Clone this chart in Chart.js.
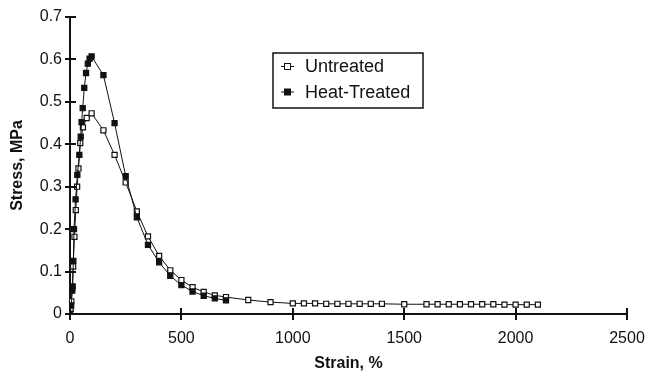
<!DOCTYPE html>
<html>
<head>
<meta charset="utf-8">
<script src="https://cdn.jsdelivr.net/npm/chart.js@4/dist/chart.umd.min.js"></script>
<style>
html,body{margin:0;padding:0;background:#fff;}
#wrap{width:645px;height:373px;position:relative;}
</style>
</head>
<body>
<div id="wrap"><canvas id="c" width="645" height="373"></canvas></div>
<script>
// Data
const untreatedStrain = [0, 3, 6, 10, 14, 20, 26, 32, 38, 46, 58, 75, 97, 150, 200, 250, 300, 350, 400, 450, 500, 550, 600, 650, 700, 800, 900,
  1000, 1050, 1100, 1150, 1200, 1250, 1300, 1350, 1400, 1500,
  1600, 1650, 1700, 1750, 1800, 1850, 1900, 1950, 2000, 2050, 2100];
const untreatedStress = [0, 0.012, 0.03, 0.06, 0.112, 0.182, 0.245, 0.300, 0.343, 0.403, 0.440, 0.462, 0.473, 0.433, 0.375, 0.310, 0.242, 0.183, 0.137, 0.103, 0.080, 0.063, 0.052, 0.044, 0.040, 0.033, 0.028,
  0.025, 0.025, 0.025, 0.024, 0.024, 0.024, 0.024, 0.024, 0.024, 0.023,
  0.023, 0.023, 0.023, 0.023, 0.023, 0.023, 0.023, 0.022, 0.022, 0.022, 0.022];
const heatStrain = [0, 5, 10, 12, 15, 18, 25, 33, 42, 48, 52, 57, 64, 72, 80, 88, 97, 150, 200, 250, 300, 350, 400, 450, 500, 550, 600, 650, 700];
const heatStress = [0, 0.020, 0.055, 0.065, 0.125, 0.200, 0.270, 0.328, 0.375, 0.418, 0.452, 0.485, 0.533, 0.568, 0.590, 0.602, 0.607, 0.563, 0.450, 0.325, 0.228, 0.163, 0.122, 0.090, 0.068, 0.053, 0.043, 0.037, 0.032];
const seriesNames = ["Untreated", "Heat-Treated"];
const xTicks = [0, 500, 1000, 1500, 2000, 2500];
const yTicks = [0, 0.1, 0.2, 0.3, 0.4, 0.5, 0.6, 0.7];
const xTitle = "Strain, %";
const yTitle = "Stress, MPa";

const toPts = (xs, ys) => xs.map((x, i) => ({x: x, y: ys[i]}));
const FONT = "'Liberation Sans', Arial, Helvetica, sans-serif";

const crossTicks = {
  id: 'crossTicks',
  afterDraw(chart) {
    const ctx = chart.ctx;
    const xs = chart.scales.x, ys = chart.scales.y;
    ctx.save();
    ctx.strokeStyle = '#111';
    ctx.lineWidth = 2;
    const yb = ys.getPixelForValue(0);
    xTicks.forEach(v => {
      const px = Math.round(xs.getPixelForValue(v));
      ctx.beginPath(); ctx.moveTo(px, yb - 6); ctx.lineTo(px, yb + 6); ctx.stroke();
    });
    const xl = xs.getPixelForValue(0);
    yTicks.forEach(v => {
      const py = Math.round(ys.getPixelForValue(v));
      ctx.beginPath(); ctx.moveTo(xl - 5, py); ctx.lineTo(xl + 6, py); ctx.stroke();
    });
    // framed legend
    const bx = 273, by = 53, bw = 150, bh = 55;
    ctx.fillStyle = '#fff';
    ctx.fillRect(bx, by, bw, bh);
    ctx.lineWidth = 1.5;
    ctx.strokeStyle = '#111';
    ctx.strokeRect(bx, by, bw, bh);
    const rows = [66.5, 92];
    chart.data.datasets.forEach((ds, i) => {
      const cy = rows[i];
      ctx.lineWidth = 1;
      ctx.strokeStyle = '#111';
      ctx.beginPath(); ctx.moveTo(281, cy); ctx.lineTo(294, cy); ctx.stroke();
      ctx.fillStyle = ds.pointBackgroundColor;
      ctx.fillRect(284.5, cy - 3, 6, 6);
      ctx.strokeRect(284.5, cy - 3, 6, 6);
      ctx.fillStyle = '#111';
      ctx.font = '18px ' + FONT;
      ctx.textBaseline = 'middle';
      ctx.textAlign = 'left';
      ctx.fillText(ds.label, 305, cy + 1);
    });
    ctx.restore();
  }
};

new Chart(document.getElementById('c'), {
  type: 'scatter',
  data: {
    datasets: [
      {
        label: seriesNames[0],
        data: toPts(untreatedStrain, untreatedStress),
        showLine: true,
        borderColor: '#111',
        borderWidth: 1,
        pointStyle: 'rect',
        pointRadius: 3.6,
        pointBackgroundColor: '#ffffff',
        pointBorderColor: '#111',
        pointBorderWidth: 1.2,
        order: 2
      },
      {
        label: seriesNames[1],
        data: toPts(heatStrain, heatStress),
        showLine: true,
        borderColor: '#111',
        borderWidth: 1,
        pointStyle: 'rect',
        pointRadius: 3.6,
        pointBackgroundColor: '#111111',
        pointBorderColor: '#111',
        pointBorderWidth: 1.2,
        order: 1
      }
    ]
  },
  options: {
    responsive: false,
    animation: false,
    layout: {padding: {top: 17, right: 18, left: 0, bottom: 0}},
    plugins: {legend: {display: false}, tooltip: {enabled: false}},
    scales: {
      x: {
        type: 'linear',
        min: 0, max: 2500,
        afterBuildTicks: s => { s.ticks = xTicks.map(v => ({value: v})); },
        afterFit: s => { s.height = 59; s.paddingRight = 0; s.paddingLeft = 0; },
        grid: {display: false, drawTicks: false},
        border: {display: true, color: '#111', width: 2},
        ticks: {
          padding: 15,
          color: '#111',
          font: {family: FONT, size: 16},
          maxRotation: 0,
          callback: v => String(v)
        },
        title: {display: true, text: xTitle, color: '#111', font: {family: FONT, size: 16, weight: 'bold'}, padding: {top: 1, bottom: 0}}
      },
      y: {
        type: 'linear',
        min: 0, max: 0.7,
        afterBuildTicks: s => { s.ticks = yTicks.map(v => ({value: v})); },
        afterFit: s => { s.width = 70; s.paddingTop = 0; s.paddingBottom = 0; },
        grid: {display: false, drawTicks: false},
        border: {display: true, color: '#111', width: 2},
        ticks: {
          padding: 8,
          color: '#111',
          font: {family: FONT, size: 16},
          callback: v => String(Math.round(v * 10) / 10)
        },
        title: {display: true, text: yTitle, color: '#111', font: {family: FONT, size: 16, weight: 'bold'}, padding: {top: 8, bottom: 0}}
      }
    }
  },
  plugins: [crossTicks]
});
</script>
</body>
</html>
